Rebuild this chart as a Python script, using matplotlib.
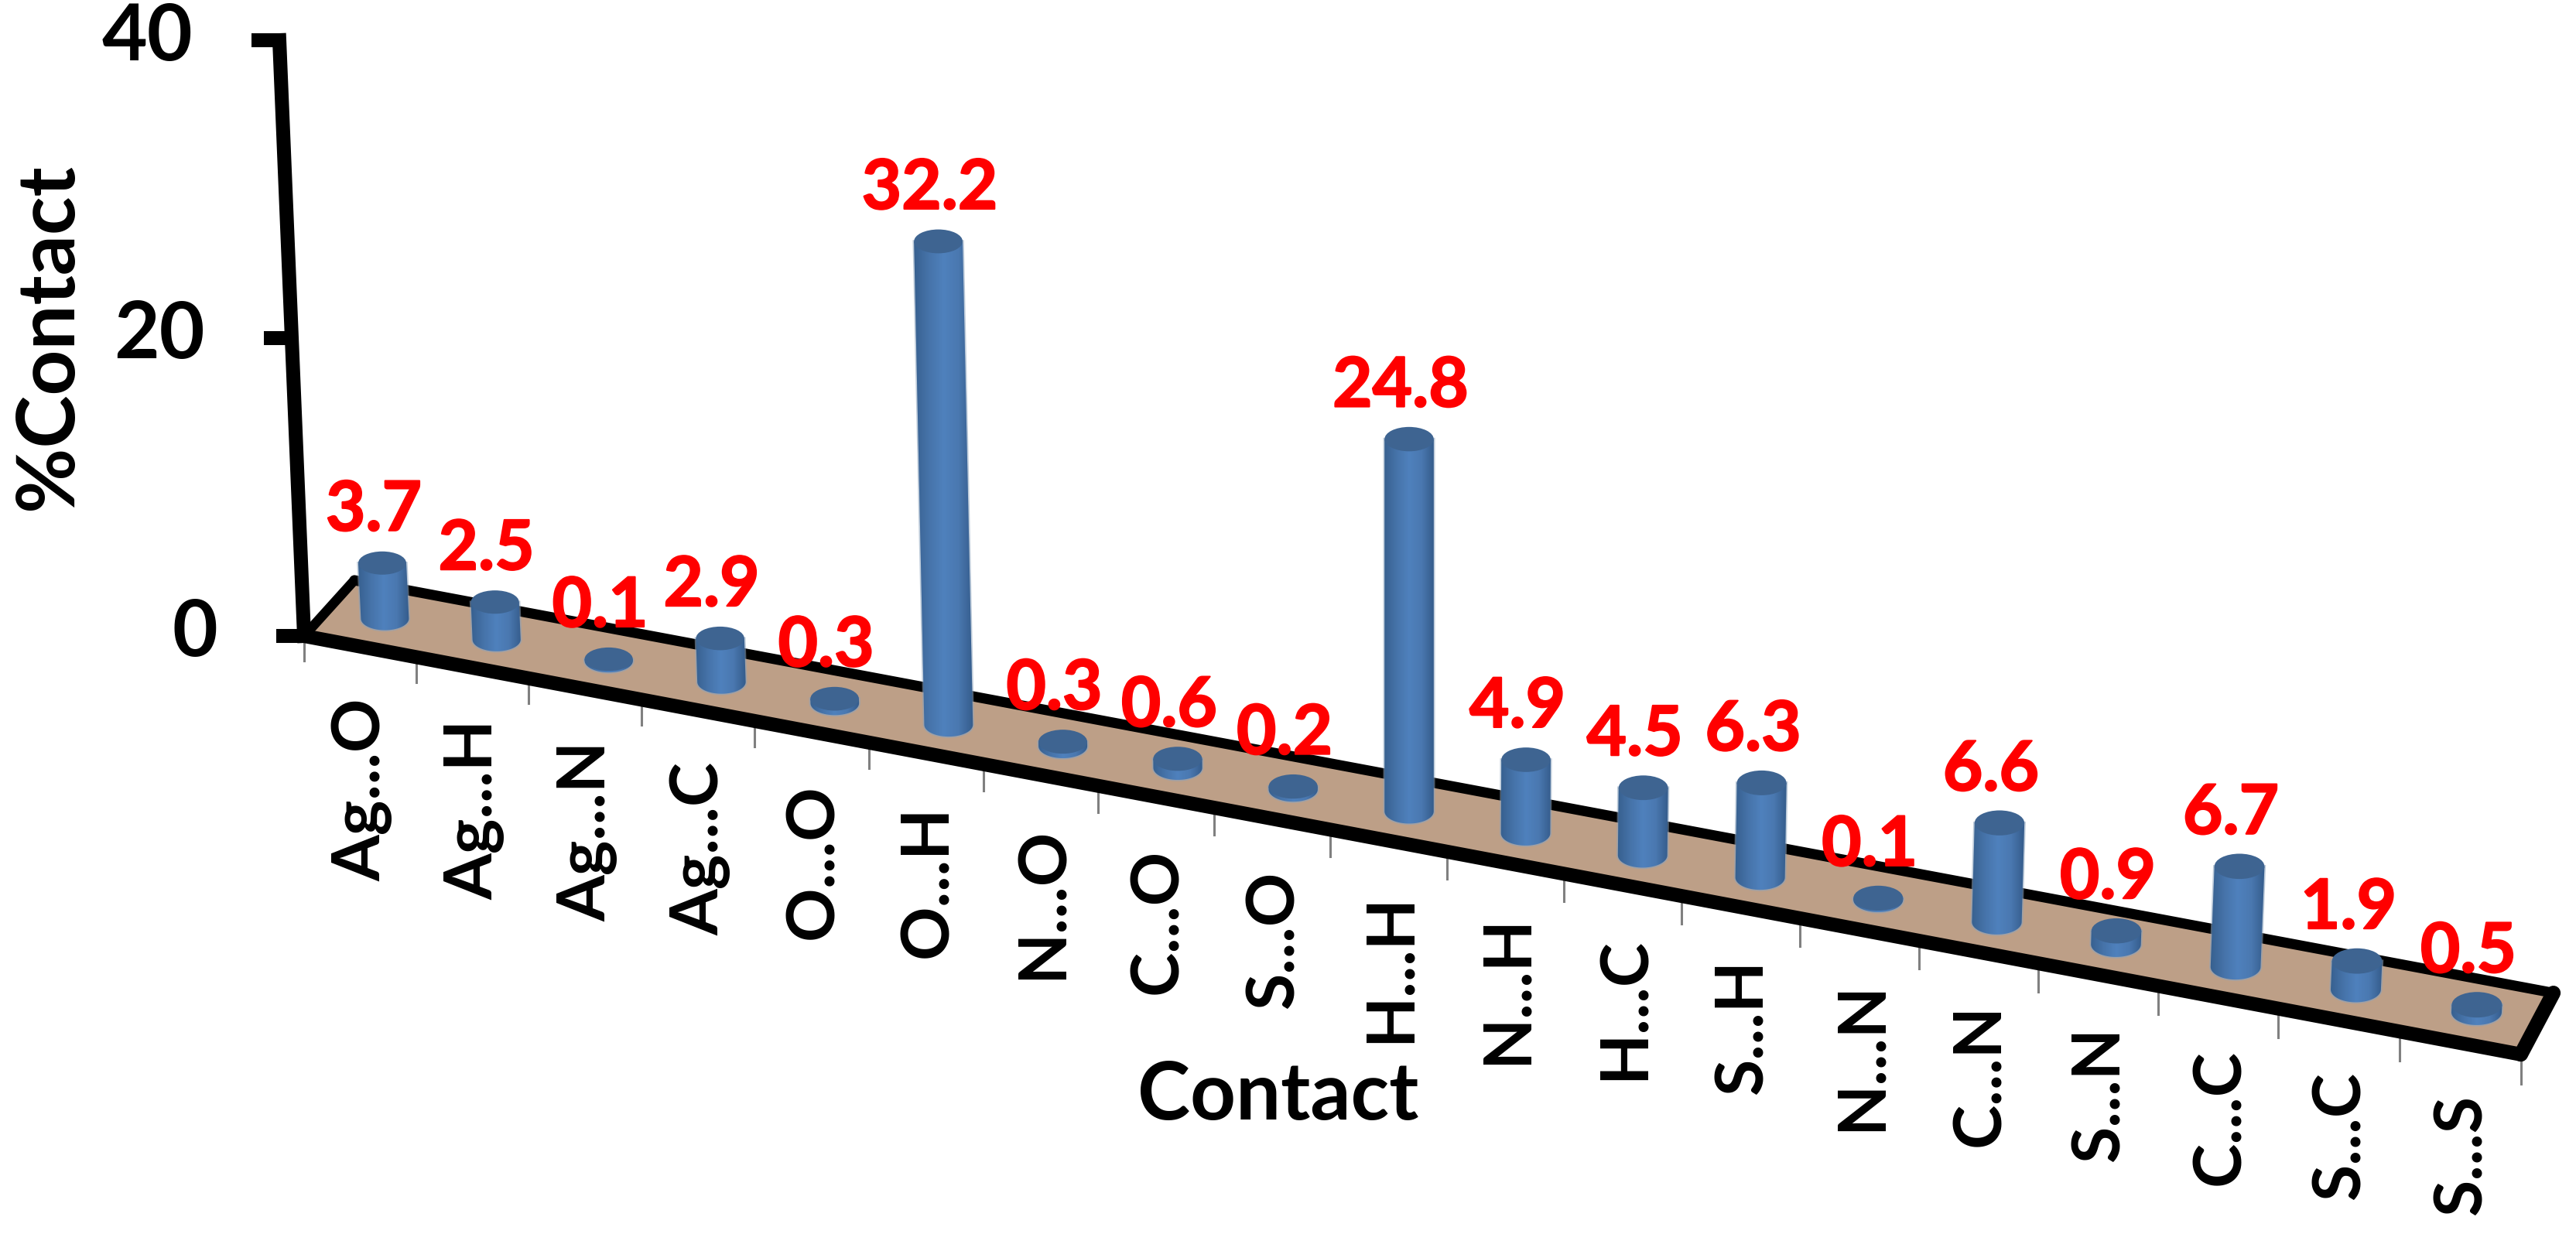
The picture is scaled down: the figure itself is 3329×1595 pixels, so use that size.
import numpy as np
import matplotlib
matplotlib.use('Agg')
import matplotlib.pyplot as plt
import matplotlib.patheffects as pe
from matplotlib.colors import LinearSegmentedColormap
from matplotlib.patches import Ellipse, Polygon

contacts = ['Ag...O', 'Ag...H', 'Ag...N', 'Ag...C', 'O...O', 'O...H', 'N...O', 'C...O', 'S...O', 'H...H',
            'N...H', 'H...C', 'S...H', 'N...N', 'C...N', 'S...N', 'C...C', 'S...C', 'S...S']
percent = [3.7, 2.5, 0.1, 2.9, 0.3, 32.2, 0.3, 0.6, 0.2, 24.8,
           4.9, 4.5, 6.3, 0.1, 6.6, 0.9, 6.7, 1.9, 0.5]
y_ticks = [0, 20, 40]

font = 'Lato'
floor_color = '#bd9f87'
top_color = '#3e6491'
body_cmap = LinearSegmentedColormap.from_list('body', ['#37608f', '#4673a9', '#4f81bd', '#4a78b0', '#345b8a'])


def floor_point(c, d):
    '''category position c and depth d (0 front, 1 back) to picture pixels'''
    run = 144.2 * c + 0.346 * c * c
    front_x = 393 + run
    front_y = 822 + 0.1888 * run
    back_x = 458 + run * 0.992
    back_y = 750 + 0.1862 * run
    return front_x + d * (back_x - front_x), front_y + d * (back_y - front_y)


def axis_point(v):
    return 393 - 32 * v / 40, 822 - 770 * v / 40


def draw_cylinder(ax, i, value):
    bx, by = floor_point(i + 0.5, 0.5)
    rx = 31 + 1.5 * i / 18
    ry = 15 + 1.5 * i / 18
    h = 19.4 * value
    tx = bx + h * (bx - 1820) / 28000
    ty = by - h

    t = np.linspace(np.pi, 0, 40)
    outline = np.column_stack([bx + rx * np.cos(t), by + ry * np.sin(t)])
    outline = np.vstack([outline, [tx + rx, ty], [tx - rx, ty]])
    body = Polygon(outline, closed=True, facecolor='#8aa2bd', edgecolor='#8aa2bd', lw=2.5, alpha=0.55, zorder=3.9)
    ax.add_patch(body)
    gradient = np.linspace(0, 1, 64).reshape(1, -1)
    left = min(bx, tx) - rx - 1
    right = max(bx, tx) + rx + 1
    im = ax.imshow(gradient, cmap=body_cmap, extent=(left, right, by + ry + 1, ty - 1),
                   aspect='auto', interpolation='bilinear', zorder=4)
    im.set_clip_path(body)

    ax.add_patch(Ellipse((tx, ty), 2 * rx, 2 * ry, facecolor=top_color, edgecolor='none', zorder=5))
    ax.text(tx - 11, ty - 68, f'{value}', color='#ff0000', fontsize=64, fontweight='bold',
            family=font, ha='center', va='center', zorder=7,
            path_effects=[pe.withStroke(linewidth=1.5, foreground='#ff0000')])


fig = plt.figure(figsize=(33.29, 15.95), dpi=100)
ax = fig.add_axes([0, 0, 1, 1])

n = len(contacts)

# floor
corners = [floor_point(0, 0), floor_point(n, 0), floor_point(n, 1), floor_point(0, 1)]
ax.add_patch(Polygon(corners, closed=True, facecolor=floor_color, edgecolor='none', zorder=1))
for a, b, lw in [(corners[3], corners[2], 9.5), (corners[0], corners[3], 9), (corners[1], corners[2], 13.5)]:
    ax.plot([a[0], b[0]], [a[1], b[1]], color='black', lw=lw, solid_capstyle='round', zorder=2)
ax.plot([corners[0][0], corners[1][0]], [corners[0][1], corners[1][1]], color='black', lw=13,
        solid_capstyle='round', zorder=3)

# category ticks and labels
for i in range(n + 1):
    x, y = floor_point(i, 0)
    ax.plot([x, x], [y, y + 32 + 6 * i / n], color='#808080', lw=2.2, zorder=1.5)
for i, name in enumerate(contacts):
    x, y = floor_point(i + 0.5, 0)
    ax.text(x + 3, y + 67, name, rotation=90, ha='center', va='top', fontsize=62, fontweight='bold',
            family=font, color='black', zorder=6)

# value axis
x0, y0 = axis_point(0)
x1, y1 = axis_point(40)
ax.plot([x0, x1], [y0, y1], color='black', lw=13, solid_capstyle='projecting', zorder=3)
for v in y_ticks:
    x, y = axis_point(v)
    ax.plot([x - 36, x], [y, y], color='black', lw=13, solid_capstyle='butt', zorder=3)
    ax.text(x - 112, y - 3, str(v), ha='right', va='center', fontsize=73, fontweight='bold',
            family=font, color='black')

for i, value in enumerate(percent):
    draw_cylinder(ax, i, value)

ax.text(63, 435, '%Contact', rotation=90, ha='center', va='center', fontsize=74, fontweight='bold',
        family=font, color='black')
ax.text(1652, 1417, 'Contact', ha='center', va='center', fontsize=74, fontweight='bold',
        family=font, color='black')

ax.set_xlim(0, 3329)
ax.set_ylim(1595, 0)
ax.axis('off')

fig.savefig('out.png', dpi=100, facecolor='white')
